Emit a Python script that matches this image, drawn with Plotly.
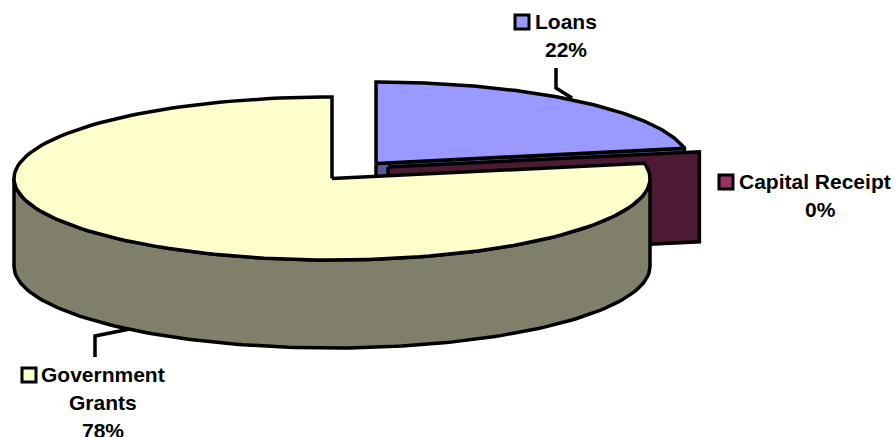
import numpy as np
import plotly.graph_objects as go

categories = ['Loans', 'Capital Receipt', 'Government Grants']
shares = [22, 0, 78]
label_lines = [['Loans'], ['Capital Receipt'], ['Government', 'Grants']]

top_colors = ['#9999FF', '#993366', '#FFFFCC']
side_colors = ['#5A5A96', '#4D1A33', '#80806A']

# centre and width of each exploded slice, in page pixels
centers = [(376, 163.5), (388, 167), (332, 178.5)]
radii = [314, 317, 318]
ry, depth = 81.5, 88
edge = dict(color='black', width=3.5)

fig = go.Figure()


def arc(i, t0, t1):
    cx, cy = centers[i]
    t = np.radians(np.linspace(t0, t1, 150))
    return cx + radii[i] * np.sin(t), cy - ry * np.cos(t)


def polygon(xs, ys, color):
    fig.add_trace(go.Scatter(x=list(xs) + [xs[0]], y=list(ys) + [ys[0]], mode='lines',
                             fill='toself', fillcolor=color, line=edge, hoverinfo='skip'))


# leader lines go under the slices
leader_x = [[556, 556, 572], [95, 95, 135]]
leader_y = [[68, 88, 98], [357, 336, 328]]
for lx, ly in zip(leader_x, leader_y):
    fig.add_trace(go.Scatter(x=lx, y=ly, mode='lines', line=edge, hoverinfo='skip'))

# start angle of each slice, clockwise from 12 o'clock
starts = [0]
for s in shares:
    starts.append(starts[-1] + s * 3.6)

# loans
cx, cy = centers[0]
ax, ay = arc(0, starts[0], starts[1])
ex, ey = ax[-1], ay[-1]
polygon([cx, ex, ex, cx], [cy, ey, ey + depth, cy + depth], side_colors[0])
polygon([cx] + list(ax), [cy] + list(ay), top_colors[0])

# capital receipt, only its wall shows at 0%
cx, cy = centers[1]
ax, ay = arc(1, starts[1], starts[2])
ex, ey = ax[-1], ay[-1]
polygon([cx, ex, ex, cx], [cy, ey, ey + depth + 2, cy + depth + 2], side_colors[1])

# government grants
cx, cy = centers[2]
wx, wy = arc(2, 90, 270)
polygon(list(wx) + list(wx[::-1]), list(wy) + list(wy[::-1] + depth), side_colors[2])
ax, ay = arc(2, starts[2], starts[3])
polygon([cx] + list(ax), [cy] + list(ay), top_colors[2])

# labels: key square, first line start, then centred lines
key_x = [522, 726, 29]
key_y = [22, 182, 375]
text_x = [533, 737, 39]
mid_x = [566, 820, 103]
line_gap = 28

fig.add_trace(go.Scatter(x=key_x, y=key_y, mode='markers', hoverinfo='skip',
                         marker=dict(symbol='square', size=14, color=top_colors,
                                     line=dict(color='black', width=3))))

font = dict(family='Liberation Sans', size=21, color='black', weight='bold')
for i, lines in enumerate(label_lines):
    y = key_y[i] - 1
    fig.add_annotation(x=text_x[i], y=y, text=lines[0], xanchor='left', yanchor='middle',
                       showarrow=False, font=font)
    for extra in lines[1:]:
        y += line_gap
        fig.add_annotation(x=mid_x[i], y=y, text=extra, xanchor='center', yanchor='middle',
                           showarrow=False, font=font)
    y += line_gap
    fig.add_annotation(x=mid_x[i], y=y, text='{}%'.format(shares[i]), xanchor='center',
                       yanchor='middle', showarrow=False, font=font)

fig.update_layout(width=895, height=437, margin=dict(l=0, r=0, t=0, b=0), showlegend=False,
                  paper_bgcolor='white', plot_bgcolor='white')
fig.update_xaxes(range=[0, 895], visible=False)
fig.update_yaxes(range=[437, 0], visible=False)

# the page's default body margin would push the chart off by 8px
fig.write_html('out.html', config={'displayModeBar': False},
               post_script="document.body.style.margin='0';document.body.style.overflow='hidden';")
